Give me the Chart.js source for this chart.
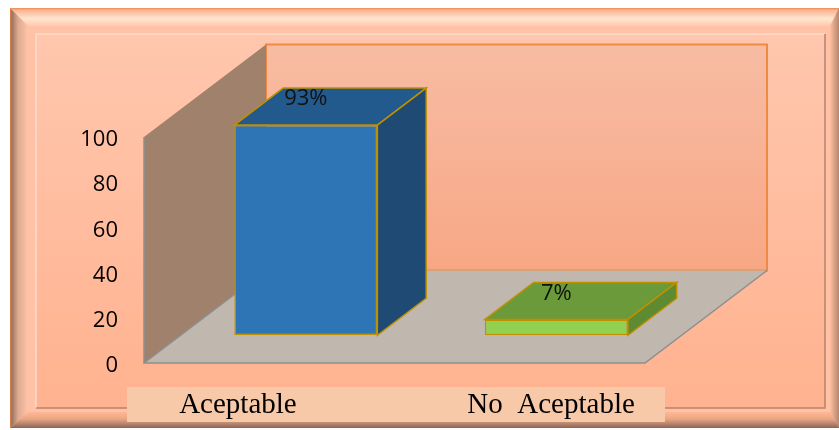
<!DOCTYPE html>
<html>
<head>
<meta charset="utf-8">
<script src="https://cdn.jsdelivr.net/npm/chart.js@4/dist/chart.umd.min.js"></script>
<style>
  html, body { margin: 0; padding: 0; background: #ffffff; }
  #wrap { width: 839px; height: 430px; position: relative; }
</style>
</head>
<body>
<div id="wrap"><canvas id="evalChart" width="839" height="430"></canvas></div>
<script>
const categories = ['Aceptable', 'No  Aceptable'];
const percentValues = [93, 7];
const valueLabels = ['93%', '7%'];
const yTicks = [0, 20, 40, 60, 80, 100];

const frontColors = ['#2E75B6', '#92D050'];
const topColors = ['#235A8D', '#6B9A3A'];
const sideColors = ['#1E4A74', '#5E8A32'];
const edgeColor = '#BF9000';

// 3D box geometry: full depth of the floor and where the bars sit in it
const DEPTH_X = 122;
const DEPTH_Y = -92.5;
const BAR_FRONT = 0.3;
const BAR_BACK = 0.7;

function poly(ctx, pts, fill, stroke, lw) {
  ctx.beginPath();
  ctx.moveTo(pts[0][0], pts[0][1]);
  for (let i = 1; i < pts.length; i++) ctx.lineTo(pts[i][0], pts[i][1]);
  ctx.closePath();
  if (fill) { ctx.fillStyle = fill; ctx.fill(); }
  if (stroke) { ctx.strokeStyle = stroke; ctx.lineWidth = lw || 1; ctx.stroke(); }
}

// bevelled peach frame behind the chart
const framePlugin = {
  id: 'frame',
  beforeDraw(chart) {
    const ctx = chart.ctx;
    ctx.save();
    ctx.fillStyle = '#FFC2A6';
    ctx.fillRect(10, 8, 829, 420);

    let g = ctx.createLinearGradient(0, 8, 0, 26);
    g.addColorStop(0, '#F08A4E');
    g.addColorStop(0.12, '#F9B592');
    g.addColorStop(0.6, '#FFE6D0');
    g.addColorStop(1, '#FFC8AD');
    poly(ctx, [[10, 8], [839, 8], [839, 26], [28, 26]], g);

    g = ctx.createLinearGradient(10, 0, 28, 0);
    g.addColorStop(0, '#EE8040');
    g.addColorStop(0.1, '#9A7464');
    g.addColorStop(0.45, '#DDAA8F');
    g.addColorStop(1, '#FFC4A8');
    poly(ctx, [[10, 8], [28, 26], [28, 412], [10, 428]], g);

    g = ctx.createLinearGradient(0, 412, 0, 428);
    g.addColorStop(0, '#FFB896');
    g.addColorStop(0.45, '#E9A584');
    g.addColorStop(1, '#8A6658');
    poly(ctx, [[10, 428], [28, 412], [839, 412], [839, 428]], g);

    g = ctx.createLinearGradient(830, 0, 839, 0);
    g.addColorStop(0, '#FFBE9F');
    g.addColorStop(1, '#B58670');
    poly(ctx, [[830, 26], [839, 8], [839, 428], [830, 412]], g);

    // inner panel
    g = ctx.createLinearGradient(0, 34, 0, 408);
    g.addColorStop(0, '#FFC7AE');
    g.addColorStop(1, '#FFB28F');
    ctx.fillStyle = g;
    ctx.fillRect(36, 34, 789, 374);
    ctx.lineWidth = 1.5;
    ctx.strokeStyle = '#FFDCCB';
    ctx.beginPath(); ctx.moveTo(36, 408); ctx.lineTo(36, 34); ctx.lineTo(825, 34); ctx.stroke();
    ctx.strokeStyle = '#B8826B';
    ctx.beginPath(); ctx.moveTo(825, 34); ctx.lineTo(825, 408); ctx.lineTo(36, 408); ctx.stroke();

    // category label strip
    ctx.fillStyle = '#F8C9A9';
    ctx.fillRect(127, 387, 538, 35);
    ctx.restore();
  }
};

// walls, floor and the extruded bar faces
const boxPlugin = {
  id: 'box3d',
  beforeDatasetsDraw(chart) {
    const ctx = chart.ctx;
    const x = chart.scales.x, y = chart.scales.y;
    const l = x.left, r = x.right;
    const t = y.getPixelForValue(100), b = y.getPixelForValue(0);
    ctx.save();
    const g = ctx.createLinearGradient(0, t + DEPTH_Y, 0, b + DEPTH_Y);
    g.addColorStop(0, '#F7BCA3');
    g.addColorStop(1, '#F8A785');
    poly(ctx, [[l + DEPTH_X, t + DEPTH_Y], [r + DEPTH_X, t + DEPTH_Y], [r + DEPTH_X, b + DEPTH_Y], [l + DEPTH_X, b + DEPTH_Y]], g, '#EF8A45', 2);
    poly(ctx, [[l, b], [l, t], [l + DEPTH_X, t + DEPTH_Y], [l + DEPTH_X, b + DEPTH_Y]], '#A0816C');
    poly(ctx, [[l, b], [r, b], [r + DEPTH_X, b + DEPTH_Y], [l + DEPTH_X, b + DEPTH_Y]], '#C0B7AE');
    ctx.strokeStyle = '#8E8E8E';
    ctx.lineWidth = 1.5;
    ctx.beginPath();
    ctx.moveTo(l + DEPTH_X, b + DEPTH_Y);
    ctx.lineTo(l, b);
    ctx.lineTo(l, t);
    ctx.moveTo(l, b);
    ctx.lineTo(r, b);
    ctx.lineTo(r + DEPTH_X, b + DEPTH_Y);
    ctx.stroke();
    ctx.restore();

    // bars are pushed back into the box
    ctx.save();
    ctx.translate(DEPTH_X * BAR_FRONT, DEPTH_Y * BAR_FRONT);
  },
  afterDatasetsDraw(chart) {
    const ctx = chart.ctx;
    const dx = DEPTH_X * (BAR_BACK - BAR_FRONT);
    const dy = DEPTH_Y * (BAR_BACK - BAR_FRONT);
    chart.getDatasetMeta(0).data.forEach((bar, i) => {
      const p = bar.getProps(['x', 'y', 'base', 'width'], true);
      const l = p.x - p.width / 2, r = p.x + p.width / 2;
      poly(ctx, [[l, p.y], [r, p.y], [r + dx, p.y + dy], [l + dx, p.y + dy]], topColors[i], edgeColor, 1.5);
      poly(ctx, [[r, p.y], [r + dx, p.y + dy], [r + dx, p.base + dy], [r, p.base]], sideColors[i], edgeColor, 1.5);
      ctx.fillStyle = '#111111';
      ctx.font = '22px "Open Sans"';
      ctx.textAlign = 'center';
      ctx.textBaseline = 'middle';
      ctx.fillText(valueLabels[i], p.x, p.y - 26);
    });
    ctx.restore();

    // category names under the box
    const xs = chart.scales.x;
    const mid = (xs.left + xs.right) / 2;
    ctx.save();
    ctx.fillStyle = '#000000';
    ctx.font = '29px "Liberation Serif"';
    ctx.textAlign = 'center';
    ctx.textBaseline = 'alphabetic';
    categories.forEach((c, i) => {
      const cx = xs.getPixelForValue(i);
      ctx.fillText(c, mid + (cx - mid) * 1.25, 413);
    });
    ctx.restore();
  }
};

new Chart(document.getElementById('evalChart'), {
  type: 'bar',
  data: {
    labels: categories,
    datasets: [{
      data: percentValues,
      backgroundColor: frontColors,
      borderColor: edgeColor,
      borderWidth: 1.5,
      borderSkipped: false,
      categoryPercentage: 1,
      barPercentage: 0.571
    }]
  },
  options: {
    responsive: false,
    animation: false,
    layout: { padding: { top: 137, bottom: 67, left: 0, right: 194 } },
    plugins: { legend: { display: false }, tooltip: { enabled: false } },
    scales: {
      x: { display: false },
      y: {
        min: 0,
        max: 100,
        afterBuildTicks: (scale) => { scale.ticks = yTicks.map(v => ({ value: v })); },
        afterFit: (scale) => { scale.width = 144; scale.paddingTop = 0; scale.paddingBottom = 0; },
        grid: { display: false, drawTicks: false },
        border: { display: false },
        ticks: { padding: 26, labelOffset: 3, color: '#000000', font: { family: 'Open Sans', size: 22 } }
      }
    }
  },
  plugins: [framePlugin, boxPlugin]
});
</script>
</body>
</html>
